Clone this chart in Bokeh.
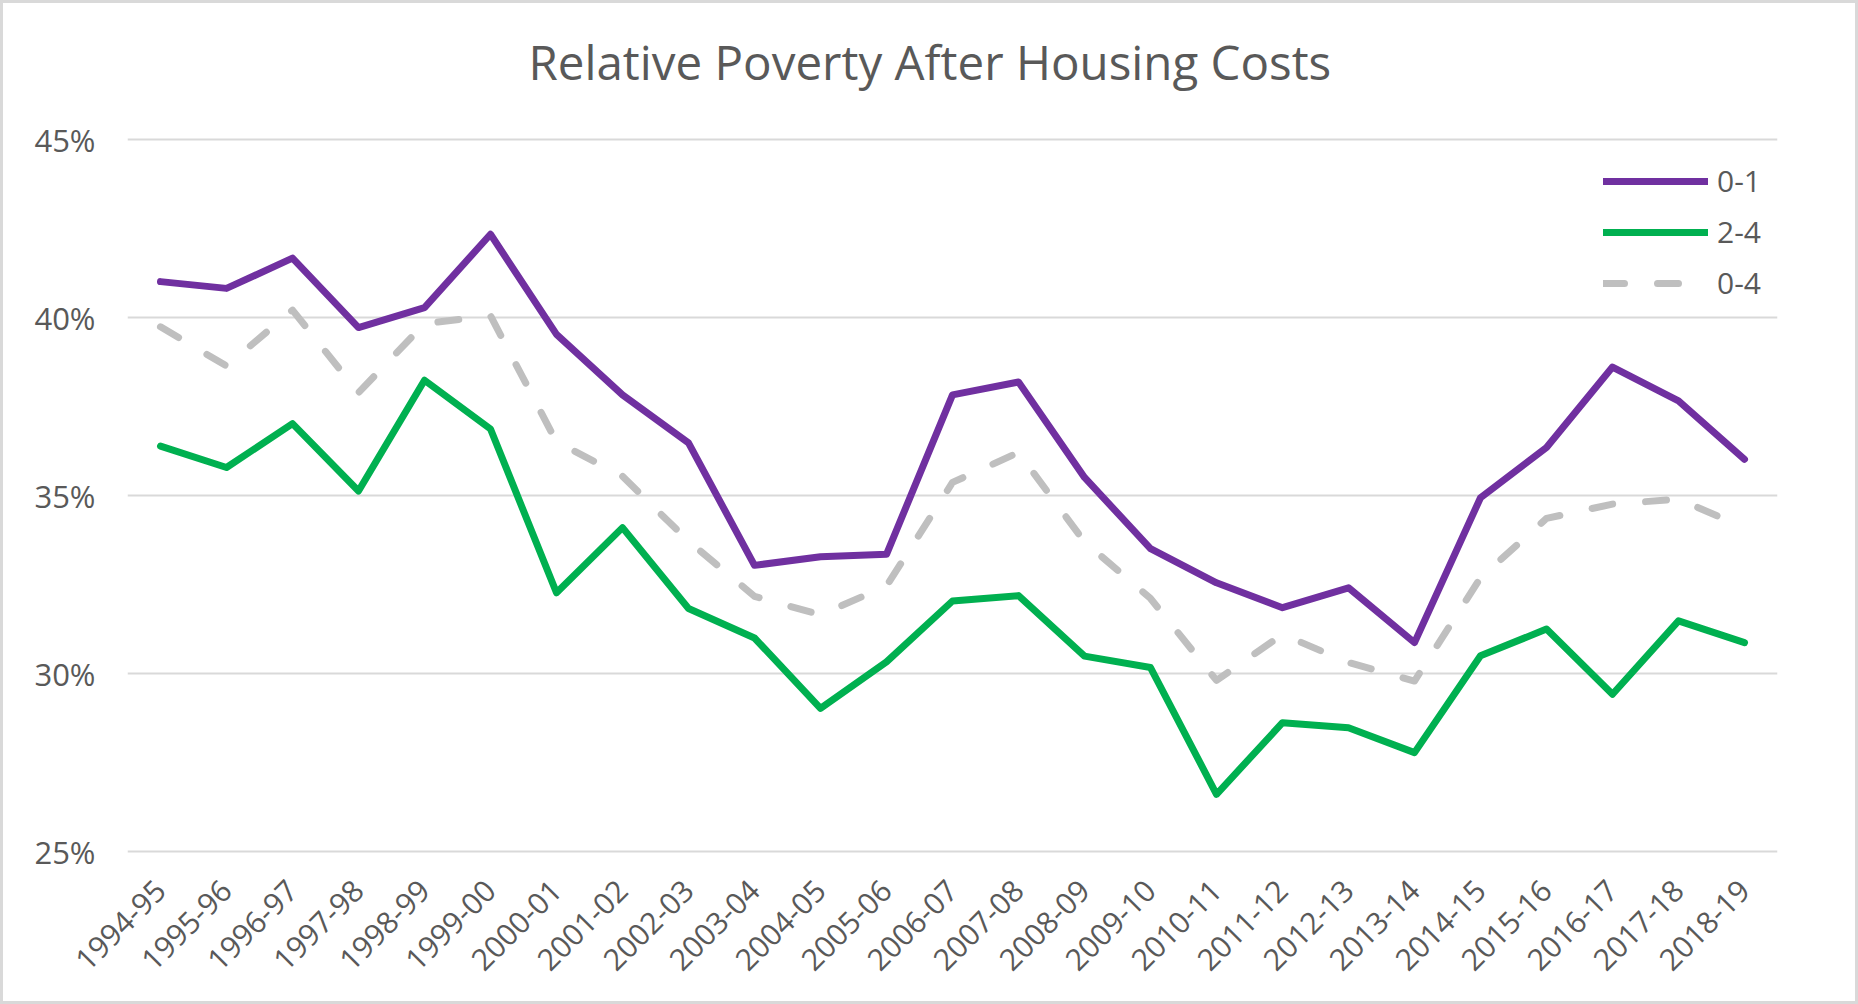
import math
from bokeh.plotting import figure
from bokeh.models import (FactorRange, Range1d, FixedTicker, PrintfTickFormatter,
                          Legend, LegendItem, Title)
from bokeh.embed import file_html
from bokeh.resources import INLINE

categories = ["1994-95", "1995-96", "1996-97", "1997-98", "1998-99", "1999-00",
              "2000-01", "2001-02", "2002-03", "2003-04", "2004-05", "2005-06",
              "2006-07", "2007-08", "2008-09", "2009-10", "2010-11", "2011-12",
              "2012-13", "2013-14", "2014-15", "2015-16", "2016-17", "2017-18",
              "2018-19"]
age_0_1 = [41.02, 40.83, 41.68, 39.73, 40.29, 42.35, 39.54, 37.84, 36.49, 33.05,
           33.29, 33.36, 37.84, 38.20, 35.52, 33.52, 32.56, 31.86, 32.42, 30.88,
           34.95, 36.36, 38.62, 37.67, 36.03]
age_2_4 = [36.40, 35.80, 37.03, 35.14, 38.25, 36.88, 32.28, 34.11, 31.84, 31.01,
           29.03, 30.34, 32.05, 32.20, 30.50, 30.18, 26.62, 28.63, 28.49, 27.79,
           30.51, 31.26, 29.43, 31.49, 30.88]
age_0_4 = [39.75, 38.65, 40.22, 37.90, 39.84, 40.06, 36.52, 35.55, 33.73, 32.18,
           31.66, 32.47, 35.38, 36.22, 33.71, 32.12, 29.82, 31.11, 30.32, 29.80,
           32.70, 34.37, 34.77, 34.91, 34.11]
y_ticks = [25, 30, 35, 40, 45]
series_names = ["0-1", "2-4", "0-4"]
title_text = "Relative Poverty After Housing Costs"

FONT = "Open Sans"
TXT = "#595959"

# frame spans canvas rows 118..855 (737 px); 35.6 px per percentage point
p = figure(width=1858, height=1004, output_backend="svg", toolbar_location=None,
           x_range=FactorRange(factors=categories, range_padding=0),
           y_range=Range1d(24.9, 24.9 + 737 / 35.6),
           min_border_left=127, min_border_right=81,
           min_border_top=118, min_border_bottom=149)
p.title = None
p.add_layout(Title(text=title_text, align="left", offset=401, standoff=49,
                   text_font=FONT, text_font_size="47.5px",
                   text_font_style="normal", text_color=TXT), "above")

p.background_fill_color = "white"
p.border_fill_color = "white"
p.border_fill_alpha = 0
p.outline_line_color = None
p.styles = {"background-color": "white",
            "box-shadow": "inset 0 0 0 3px #D9D9D9"}

p.xgrid.grid_line_color = None
p.ygrid.grid_line_color = "#D9D9D9"
p.ygrid.grid_line_width = 2

p.yaxis.ticker = FixedTicker(ticks=y_ticks)
p.yaxis.formatter = PrintfTickFormatter(format="%d%%")
for ax in (p.xaxis[0], p.yaxis[0]):
    ax.axis_line_color = None
    ax.major_tick_line_color = None
    ax.minor_tick_line_color = None
    ax.major_tick_out = 0
    ax.major_tick_in = 0
    ax.major_label_text_font = FONT
    ax.major_label_text_font_size = "30px"
    ax.major_label_text_color = TXT
p.yaxis.major_label_text_font_size = "31px"
p.yaxis.major_label_standoff = 32
p.xaxis.major_label_orientation = math.pi / 4
p.xaxis.major_label_standoff = 30

r1 = p.line(categories, age_0_1, line_color="#7030A0", line_width=7,
            line_join="round", line_cap="round")
r2 = p.line(categories, age_2_4, line_color="#00B050", line_width=7,
            line_join="round", line_cap="round")
r3 = p.line(categories, age_0_4, line_color="#BFBFBF", line_width=7,
            line_dash="21 33", line_join="round", line_cap="round")

legend = Legend(items=[LegendItem(label=series_names[0], renderers=[r1]),
                       LegendItem(label=series_names[1], renderers=[r2]),
                       LegendItem(label=series_names[2], renderers=[r3])],
                location=(1476, 552), padding=0, margin=0, spacing=10,
                glyph_width=105, glyph_height=40, label_height=40,
                label_standoff=9, label_text_font=FONT,
                label_text_font_size="30px", label_text_color=TXT,
                border_line_color=None, background_fill_alpha=0)
p.add_layout(legend)

open("out.html", "w").write(file_html(p, INLINE))
